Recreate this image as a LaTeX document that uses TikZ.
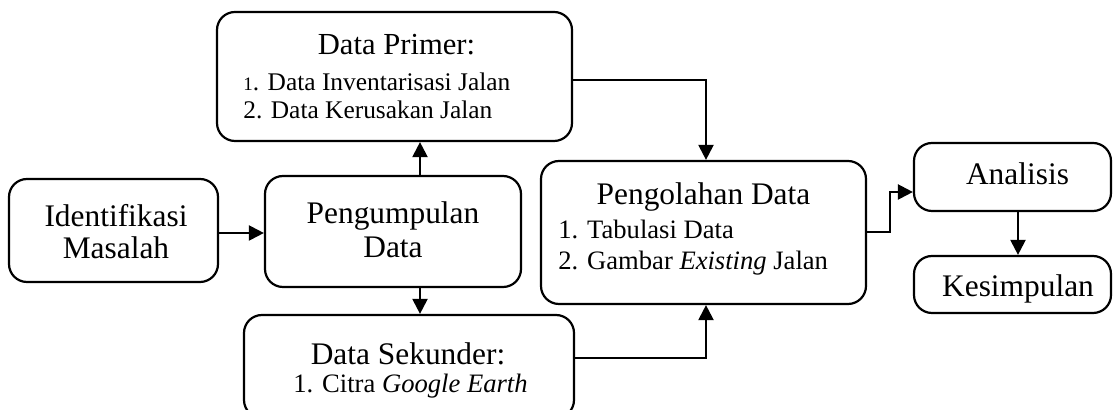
\documentclass[tikz,border=0pt]{standalone}
\usepackage{fontspec}
\setmainfont{Liberation Serif}
\usetikzlibrary{arrows.meta}
\begin{document}
\begin{tikzpicture}[x=0.5pt,y=-0.5pt,
  box/.style={draw, line width=1.1pt, rounded corners=9pt, inner sep=0pt},
  conn/.style={line width=1.1pt, -{Triangle[length=7.5pt,width=7.5pt]}},
  head/.style={font=\fontsize{15.7}{18}\selectfont, anchor=base, inner sep=0pt},
  item/.style={font=\fontsize{13.3}{16}\selectfont, anchor=base west, inner sep=0pt}]
\useasboundingbox (0,0) rectangle (1114,410);
\clip (0,0) rectangle (1114,410);
% boxes
\node[box, minimum width=104.5pt, minimum height=51.5pt] (idm) at (113.5,230.5) {};
\node[box, minimum width=128pt, minimum height=55.5pt] (pgd) at (393,231.5) {};
\node[box, minimum width=177.5pt, minimum height=64.5pt] (dp) at (394.5,76.5) {};
\node[box, minimum width=165pt, minimum height=51.5pt] (ds) at (409,366.5) {};
\node[box, minimum width=162.5pt, minimum height=71.5pt] (pol) at (703.5,232.5) {};
\node[box, minimum width=98.5pt, minimum height=34pt] (an) at (1012.5,177) {};
\node[box, minimum width=98.5pt, minimum height=28.5pt] (ks) at (1012.5,284.5) {};
% texts
\node[head] (t1a) at (116,227) {Identifikasi};
\node[head] (t1b) at (116,259) {Masalah};
\node[head] (t2a) at (393,224) {Pengumpulan};
\node[head] (t2b) at (393,258) {Data};
\node[head, font=\fontsize{15.3}{18}\selectfont] (t3a) at (396.5,55) {Data Primer:};
\node[item, font=\fontsize{12.7}{15}\selectfont] (t3b) at (243,91) {{\fontsize{9.5}{11}\selectfont 1}. Data Inventarisasi Jalan};
\node[item, font=\fontsize{12.7}{15}\selectfont] (t3c) at (243,119) {2. Data Kerusakan Jalan};
\node[head] (t4a) at (408,365) {Data Sekunder:};
\node[item] (t4b) at (293,393) {1. Citra \textit{Google Earth}};
\node[head] (t5a) at (703.5,205) {Pengolahan Data};
\node[item] (t5b) at (558,239) {1. Tabulasi Data};
\node[item] (t5c) at (558,270) {2. Gambar \textit{Existing} Jalan};
\node[head] (t6) at (1017.5,185) {Analisis};
\node[head] (t7) at (1018,297) {Kesimpulan};
% connector helper coordinates
\coordinate (c0) at (0,233);
\coordinate (c1) at (420,0);
\coordinate (c2) at (706,80);
\coordinate (c3) at (706,358);
\coordinate (c4) at (890,232);
\coordinate (c5) at (890,192);
\coordinate (c6) at (1018,0);
% connectors
\draw[conn] (idm.east |- c0) -- (pgd.west |- c0);
\draw[conn] (pgd.north -| c1) -- (dp.south -| c1);
\draw[conn] (pgd.south -| c1) -- (ds.north -| c1);
\draw[conn] (dp.east |- c2) -- (c2) -- (pol.north -| c2);
\draw[conn] (ds.east |- c3) -- (c3) -- (pol.south -| c3);
\draw[conn] (pol.east |- c4) -- (c4) -- (c5) -- (an.west |- c5);
\draw[conn] (an.south -| c6) -- (ks.north -| c6);
\end{tikzpicture}
\end{document}
